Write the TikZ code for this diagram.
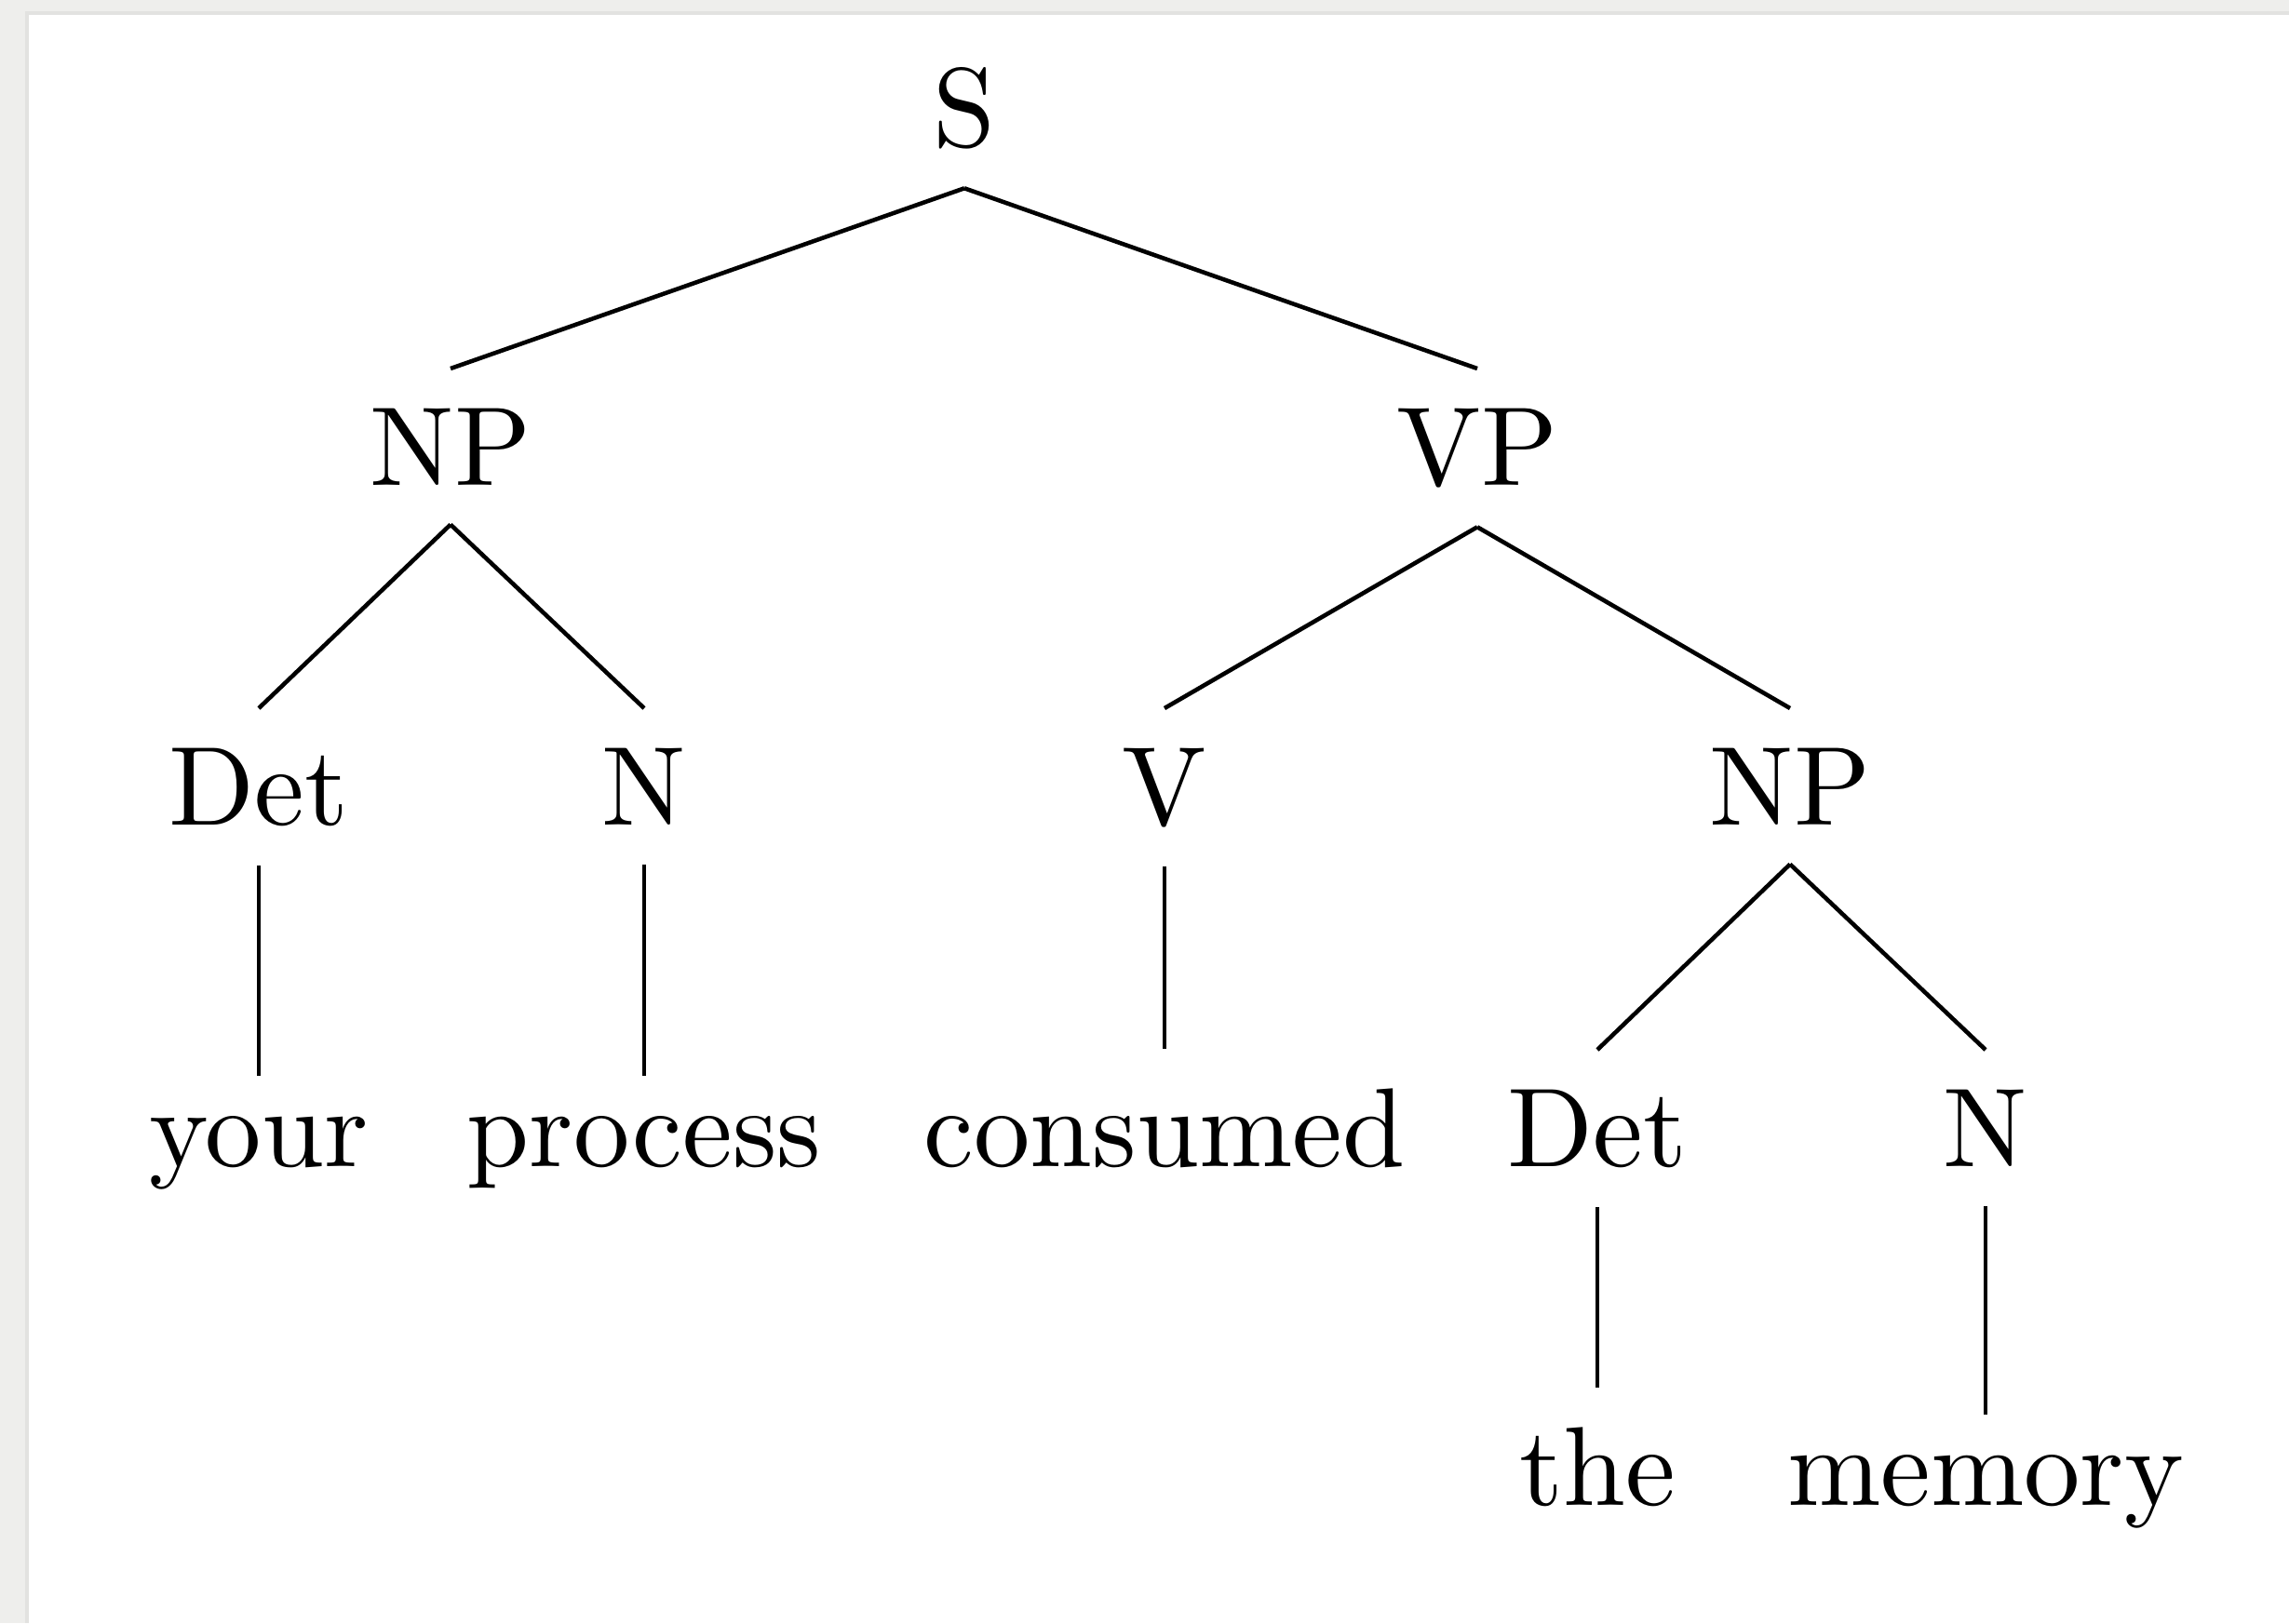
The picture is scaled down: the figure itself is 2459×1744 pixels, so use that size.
\documentclass[tikz,border=0pt]{standalone}
\definecolor{framegray}{RGB}{238,238,236}
\definecolor{frameshadow}{RGB}{226,226,224}
\tikzset{
  tn/.style={anchor=base, scale=3.43, inner sep=0.3333em},
  treeedge/.style={line width=1.3pt, black}
}
\begin{document}
\begin{tikzpicture}[x=0.01cm,y=-0.01cm]
\useasboundingbox (0,0) rectangle (2459,1744);
\fill[framegray] (0,0) rectangle (2459,14);
\fill[framegray] (0,0) rectangle (29,1744);
\draw[frameshadow, line width=1pt] (29,1744) -- (29,14) -- (2459,14);
% nodes
\node[tn] (S) at (1036,157) {S};
\node[tn] (NPa) at (484,521) {NP};
\node[tn] (VP) at (1587,521) {VP};
\node[tn] (Deta) at (278,886) {Det};
\node[tn] (Na) at (692,886) {N};
\node[tn] (V) at (1251,886) {V};
\node[tn] (NPb) at (1923,886) {NP};
\node[tn] (your) at (278,1253) {your};
\node[tn] (process) at (692,1253) {process};
\node[tn] (consumed) at (1251,1253) {consumed};
\node[tn] (Detb) at (1716,1253) {Det};
\node[tn] (Nb) at (2133,1253) {N};
\node[tn] (the) at (1716,1617) {the};
\node[tn] (memory) at (2133,1617) {memory};
% edges
\draw[treeedge] (S.south) -- (NPa.north);
\draw[treeedge] (S.south) -- (VP.north);
\draw[treeedge] (NPa.south) -- (Deta.north);
\draw[treeedge] (NPa.south) -- (Na.north);
\draw[treeedge] (VP.south) -- (V.north);
\draw[treeedge] (VP.south) -- (NPb.north);
\draw[treeedge] (Deta.south) -- (your.north);
\draw[treeedge] (Na.south) -- (process.north);
\draw[treeedge] (V.south) -- (consumed.north);
\draw[treeedge] (NPb.south) -- (Detb.north);
\draw[treeedge] (NPb.south) -- (Nb.north);
\draw[treeedge] (Detb.south) -- (the.north);
\draw[treeedge] (Nb.south) -- (memory.north);
\end{tikzpicture}
\end{document}
